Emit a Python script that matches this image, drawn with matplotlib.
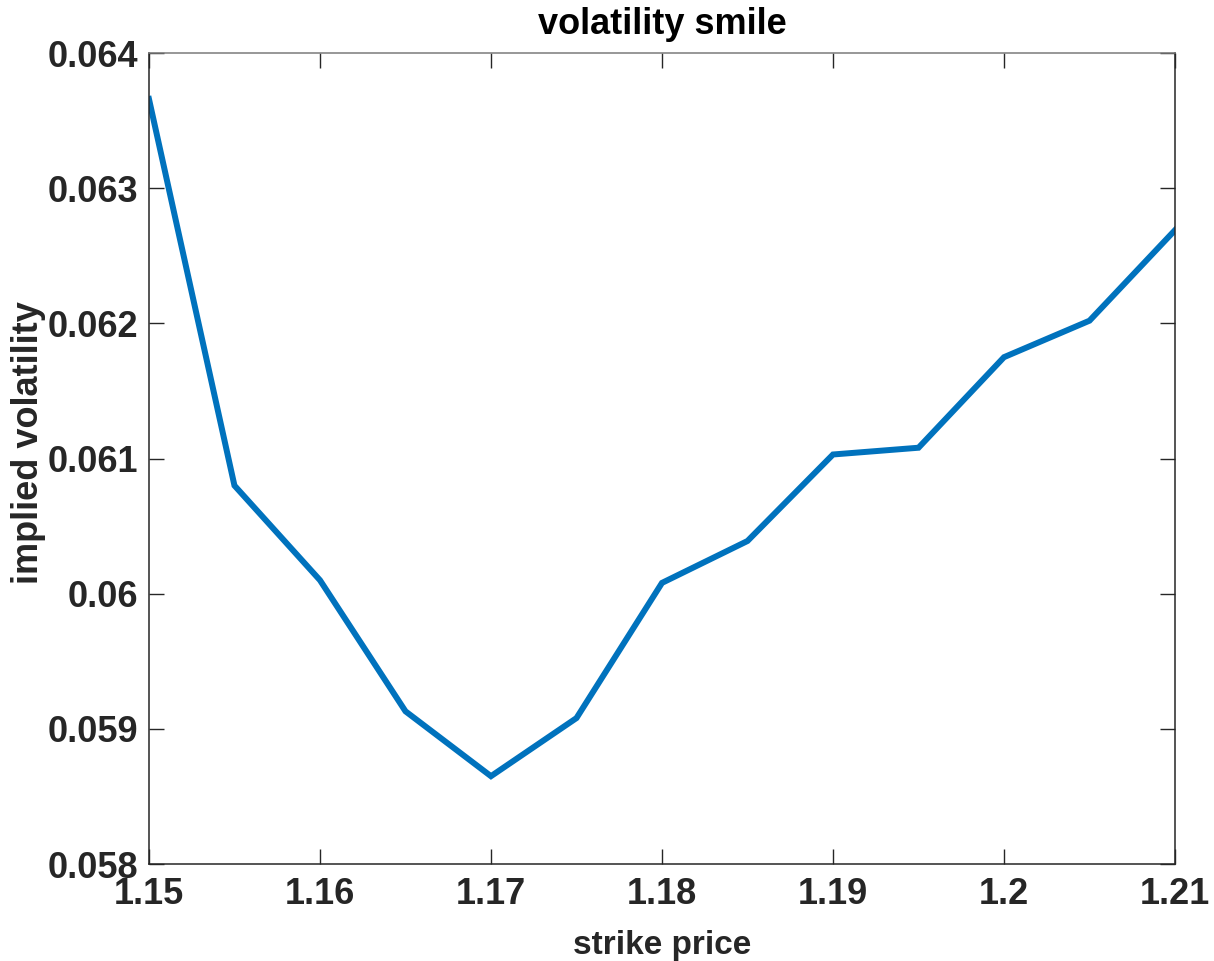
import numpy as np
import matplotlib
matplotlib.use('Agg')
import matplotlib.pyplot as plt

# strike vs implied vol
strike = [1.15, 1.155, 1.16, 1.165, 1.17, 1.175, 1.18,
          1.185, 1.19, 1.195, 1.20, 1.205, 1.21]
impvol = [0.06366, 0.06080, 0.06010, 0.05913, 0.05865, 0.05908, 0.06008,
          0.06039, 0.06103, 0.06108, 0.06175, 0.06202, 0.06269]

xticks = [1.15, 1.16, 1.17, 1.18, 1.19, 1.20, 1.21]
xtlabels = ['1.15', '1.16', '1.17', '1.18', '1.19', '1.2', '1.21']
yticks = [0.058, 0.059, 0.060, 0.061, 0.062, 0.063, 0.064]
ytlabels = ['0.058', '0.059', '0.06', '0.061', '0.062', '0.063', '0.064']

plt.rcParams['font.family'] = ['Liberation Sans', 'DejaVu Sans']
plt.rcParams['font.weight'] = 'bold'
dark = '#262626'

fig = plt.figure(figsize=(12.14, 9.61), dpi=100)
ax = fig.add_axes([0.1227, 0.1009, 0.8452, 0.8439])

ax.plot(strike, impvol, color='#0072BD', lw=4.3, solid_joinstyle='miter')

ax.set_xlim(1.15, 1.21)
ax.set_ylim(0.058, 0.064)
ax.set_xticks(xticks)
ax.set_xticklabels(xtlabels)
ax.set_yticks(yticks)
ax.set_yticklabels(ytlabels)
ax.tick_params(direction='in', length=11, width=1, colors=dark,
               labelsize=26, top=True, right=True)
ax.tick_params(axis='y', pad=8)
ax.tick_params(axis='x', pad=9)
for lab in ax.get_xticklabels() + ax.get_yticklabels():
    lab.set_fontweight('bold')
for sp in ax.spines.values():
    sp.set_color(dark)
    sp.set_linewidth(1.1)
ax.spines['top'].set_color('#7a7a7a')

ax.set_xlabel('strike price', fontsize=24, fontweight='bold', color=dark, labelpad=13)
ax.set_ylabel('implied volatility', fontsize=26, fontweight='bold', color=dark)
ax.yaxis.set_label_coords(-0.1, 0.52)
ax.set_title('volatility smile', fontsize=26, fontweight='bold', color='black', pad=14)

fig.savefig('out.png', dpi=100)
